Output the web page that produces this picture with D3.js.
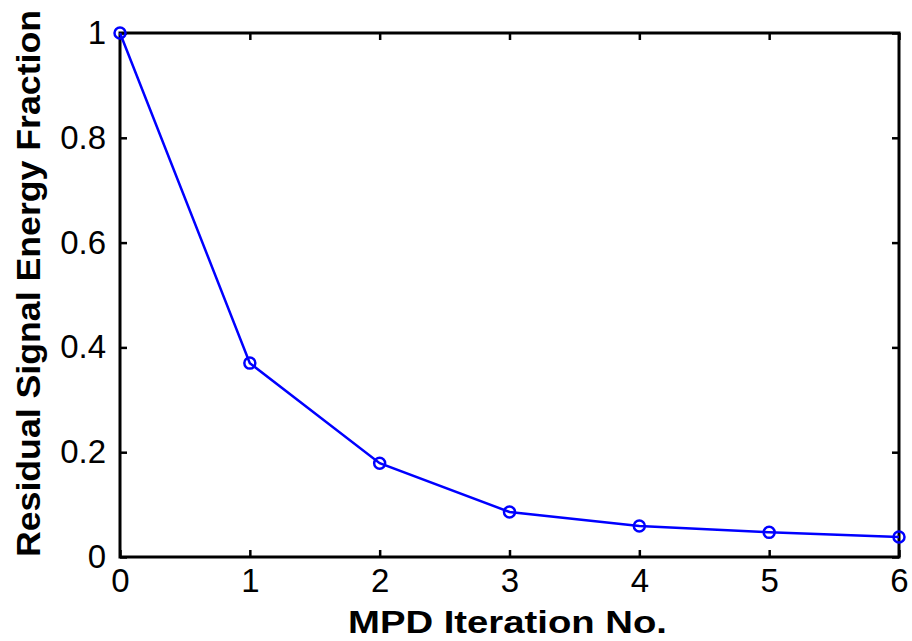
<!DOCTYPE html>
<html>
<head>
<meta charset="utf-8">
<script src="https://cdn.jsdelivr.net/npm/d3@7"></script>
<style>
  body { margin: 0; background: #fff; }
  text { font-family: "Liberation Sans", Arial, sans-serif; }
</style>
</head>
<body>
<div id="chart"></div>
<script>
// data
var iterations = [0, 1, 2, 3, 4, 5, 6];
var residual = [1.0, 0.370, 0.179, 0.086, 0.059, 0.047, 0.038];
var xTicks = [0, 1, 2, 3, 4, 5, 6];
var yTicks = [0, 0.2, 0.4, 0.6, 0.8, 1];
var yTickLabels = ["0", "0.2", "0.4", "0.6", "0.8", "1"];

var W = 912, H = 641;
var margin = {top: 33, right: 13, bottom: 84, left: 120};
var innerW = W - margin.left - margin.right;
var innerH = H - margin.top - margin.bottom;

var svg = d3.select("#chart").append("svg")
    .attr("width", W)
    .attr("height", H);

var g = svg.append("g")
    .attr("transform", "translate(" + margin.left + "," + margin.top + ")");

var x = d3.scaleLinear().domain([0, 6]).range([0, innerW]);
var y = d3.scaleLinear().domain([0, 1]).range([innerH, 0]);

var tickLen = 7;

// axes, ticks pointing inward like matlab
var xAxis = d3.axisBottom(x).tickValues(xTicks).tickSizeInner(-tickLen).tickSizeOuter(0)
    .tickPadding(tickLen + 5).tickFormat(d3.format("d"));
var yAxis = d3.axisLeft(y).tickValues(yTicks).tickSizeInner(-tickLen).tickSizeOuter(0)
    .tickPadding(tickLen + 7).tickFormat(function(d, i) { return yTickLabels[i]; });

g.append("g").attr("class", "axis")
    .attr("transform", "translate(0," + innerH + ")")
    .call(xAxis);
g.append("g").attr("class", "axis")
    .call(yAxis);
g.append("g").attr("class", "axis")
    .call(d3.axisTop(x).tickValues(xTicks).tickSizeInner(-tickLen).tickSizeOuter(0).tickFormat(""));
g.append("g").attr("class", "axis")
    .attr("transform", "translate(" + innerW + ",0)")
    .call(d3.axisRight(y).tickValues(yTicks).tickSizeInner(-tickLen).tickSizeOuter(0).tickFormat(""));

g.selectAll(".axis .domain").remove();
g.selectAll(".axis line").attr("stroke", "#000").attr("stroke-width", 2.5);
g.selectAll(".axis text")
    .attr("font-size", "33px")
    .attr("fill", "#000");

// box
g.append("rect")
    .attr("x", 0).attr("y", 0)
    .attr("width", innerW).attr("height", innerH)
    .attr("fill", "none")
    .attr("stroke", "#000")
    .attr("stroke-width", 3);

// series
var pts = iterations.map(function(d, i) { return [d, residual[i]]; });
var line = d3.line()
    .x(function(d) { return x(d[0]); })
    .y(function(d) { return y(d[1]); });

g.append("path").datum(pts)
    .attr("d", line)
    .attr("fill", "none")
    .attr("stroke", "#0000ff")
    .attr("stroke-width", 2.5);

g.selectAll(".marker").data(pts).enter().append("circle")
    .attr("class", "marker")
    .attr("cx", function(d) { return x(d[0]); })
    .attr("cy", function(d) { return y(d[1]); })
    .attr("r", 5.5)
    .attr("fill", "none")
    .attr("stroke", "#0000ff")
    .attr("stroke-width", 2.5);

// axis labels
svg.append("text")
    .attr("x", 348).attr("y", 633)
    .attr("font-size", "32px")
    .attr("font-weight", "bold")
    .attr("textLength", 319)
    .attr("lengthAdjust", "spacingAndGlyphs")
    .text("MPD Iteration No.");

svg.append("text")
    .attr("transform", "translate(40,557) rotate(-90)")
    .attr("font-size", "33px")
    .attr("font-weight", "bold")
    .attr("textLength", 547)
    .attr("lengthAdjust", "spacingAndGlyphs")
    .text("Residual Signal Energy Fraction");
</script>
</body>
</html>
